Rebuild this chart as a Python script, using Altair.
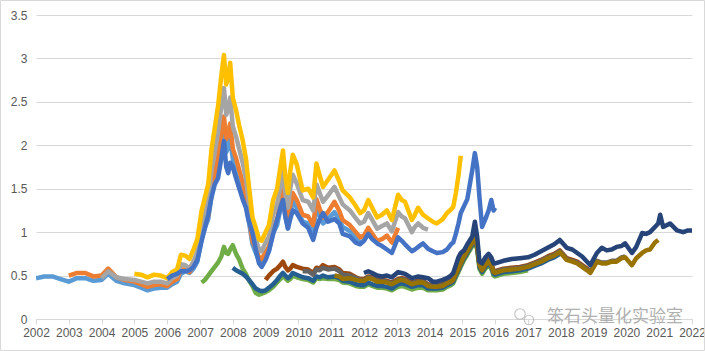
import altair as alt
import pandas as pd

# Sampling dates (fraction of year), one row per calendar year, 2002..2022
dates_by_year = [
    [2002.0, 2002.25, 2002.5, 2002.75],
    [2003.0, 2003.25, 2003.5, 2003.75],
    [2004.0, 2004.2, 2004.45, 2004.7],
    [2005.0, 2005.2, 2005.4, 2005.6, 2005.8],
    [2006.0, 2006.15, 2006.3, 2006.42, 2006.55, 2006.68, 2006.8, 2006.92],
    [2007.05, 2007.15, 2007.25, 2007.35, 2007.45, 2007.55, 2007.65, 2007.73, 2007.8, 2007.86, 2007.92],
    [2008.0, 2008.1, 2008.2, 2008.3, 2008.4, 2008.47, 2008.6, 2008.7, 2008.8, 2008.88],
    [2009.0, 2009.1, 2009.23, 2009.35, 2009.45, 2009.53, 2009.6, 2009.68, 2009.75, 2009.83, 2009.95],
    [2010.13, 2010.3, 2010.45, 2010.55, 2010.65, 2010.75, 2010.9],
    [2011.1, 2011.25, 2011.35, 2011.57, 2011.75, 2011.88],
    [2012.0, 2012.13, 2012.25, 2012.4, 2012.55, 2012.7, 2012.85],
    [2013.04, 2013.15, 2013.25, 2013.46, 2013.55, 2013.65, 2013.8, 2013.95],
    [2014.1, 2014.22, 2014.4, 2014.53, 2014.65, 2014.72, 2014.8, 2014.88, 2014.95],
    [2015.05, 2015.15, 2015.3, 2015.38, 2015.45, 2015.52, 2015.6, 2015.7, 2015.8, 2015.88, 2015.95],
    [2016.0, 2016.25, 2016.5, 2016.75],
    [2017.0, 2017.2, 2017.4, 2017.6, 2017.8, 2017.97],
    [2018.18, 2018.35, 2018.5, 2018.65, 2018.8, 2018.9],
    [2019.1, 2019.25, 2019.4, 2019.55, 2019.7, 2019.85, 2019.96],
    [2020.17, 2020.3, 2020.48, 2020.6, 2020.72, 2020.87, 2020.97],
    [2021.03, 2021.12, 2021.33, 2021.54, 2021.73, 2021.88],
    [2022.0],
]

s2002 = [
    [0.47, 0.49, 0.49, 0.46],
    [0.43, 0.47, 0.47, 0.44],
    [0.45, 0.52, 0.44, 0.41],
    [0.39, 0.36, 0.33, 0.35, 0.36],
    [0.36, 0.40, 0.43, 0.52, 0.55, 0.53, 0.58, 0.66],
    [0.92, 1.05, 1.15, 1.42, 1.60, 1.78, 2.02, 2.19, 1.92, 1.98, 2.08],
    [1.84, 1.73, 1.60, 1.48, 1.33, 1.17, 0.86, 0.76, 0.67, 0.65],
    [0.72, 0.78, 0.99, 1.08, 1.26, 1.40, 1.19, 1.05, 1.22, 1.36, 1.28],
    [1.12, 1.10, 1.02, 1.28, 1.19, 1.10, 1.15],
    [1.23, 1.14, 1.06, 1.01, 0.94, 0.88],
    [0.90],
]

s2003 = [
    [0.50, 0.53, 0.53, 0.49],
    [0.50, 0.58, 0.48, 0.45],
    [0.43, 0.40, 0.37, 0.39, 0.40],
    [0.38, 0.43, 0.46, 0.57, 0.57, 0.54, 0.62, 0.71],
    [0.96, 1.08, 1.19, 1.50, 1.69, 1.89, 2.15, 2.33, 2.07, 2.14, 2.25],
    [1.96, 1.85, 1.71, 1.58, 1.42, 1.23, 0.90, 0.81, 0.71, 0.69],
    [0.77, 0.83, 1.05, 1.15, 1.35, 1.49, 1.27, 1.12, 1.31, 1.45, 1.37],
    [1.20, 1.18, 1.08, 1.38, 1.27, 1.17, 1.23],
    [1.35, 1.24, 1.14, 1.08, 1.00, 0.94],
    [0.96, 1.05, 0.98, 0.90, 0.92, 0.96, 0.88],
    [1.05],
]

s2004 = [
    [0.47, 0.55, 0.48, 0.46],
    [0.45, 0.43, 0.41, 0.43, 0.43],
    [0.41, 0.47, 0.50, 0.63, 0.62, 0.58, 0.66, 0.78],
    [1.08, 1.22, 1.35, 1.70, 1.92, 2.15, 2.45, 2.66, 2.35, 2.42, 2.55],
    [2.22, 2.10, 1.95, 1.80, 1.62, 1.40, 1.03, 0.92, 0.80, 0.78],
    [0.88, 0.95, 1.20, 1.32, 1.54, 1.70, 1.45, 1.28, 1.50, 1.66, 1.56],
    [1.37, 1.35, 1.25, 1.55, 1.45, 1.35, 1.42],
    [1.52, 1.40, 1.32, 1.25, 1.16, 1.10],
    [1.12, 1.22, 1.14, 1.04, 1.07, 1.10, 1.01],
    [1.23, 1.18, 1.16, 1.00, 1.06, 1.10, 1.05, 1.03],
]

s2005 = [
    [0.52, 0.51, 0.48, 0.51, 0.50],
    [0.47, 0.54, 0.57, 0.74, 0.73, 0.69, 0.80, 0.92],
    [1.25, 1.40, 1.55, 1.95, 2.20, 2.45, 2.80, 3.04, 2.70, 2.78, 2.95],
    [2.55, 2.40, 2.22, 2.06, 1.85, 1.60, 1.17, 1.05, 0.92, 0.90],
    [1.00, 1.08, 1.37, 1.50, 1.75, 1.94, 1.65, 1.45, 1.70, 1.89, 1.78],
    [1.48, 1.50, 1.40, 1.79, 1.65, 1.52, 1.60],
    [1.71, 1.58, 1.48, 1.40, 1.30, 1.22],
    [1.25, 1.37, 1.28, 1.17, 1.20, 1.25, 1.14],
    [1.43, 1.37, 1.35, 1.14, 1.20, 1.28, 1.20, 1.16],
    [1.12, 1.10, 1.15, 1.22, 1.26, 1.29, 1.45, 1.65, 1.88],
]

s2006 = [
    [0.46, 0.50, 0.52, 0.55, 0.55, 0.56, 0.60, 0.68],
    [0.90, 1.05, 1.20, 1.40, 1.55, 1.62, 1.85, 2.05, 1.75, 1.68, 1.80],
    [1.75, 1.62, 1.50, 1.38, 1.28, 1.15, 0.99, 0.80, 0.64, 0.60],
    [0.68, 0.78, 0.98, 1.14, 1.28, 1.37, 1.18, 1.04, 1.15, 1.25, 1.22],
    [1.10, 1.05, 0.91, 1.05, 1.15, 1.22, 1.12],
    [1.15, 1.10, 0.98, 0.95, 0.88, 0.86],
    [0.90, 0.98, 0.92, 0.87, 0.84, 0.80, 0.76],
    [0.94, 0.90, 0.86, 0.78, 0.80, 0.83, 0.87, 0.81],
    [0.78, 0.76, 0.77, 0.80, 0.86, 0.88, 0.98, 1.10, 1.22],
    [1.30, 1.38, 1.71, 1.91, 1.75, 1.40, 1.06, 1.15, 1.25, 1.37, 1.25],
    [1.28],
]

s2007 = [
    [0.42, 0.45, 0.50, 0.55, 0.60, 0.65, 0.72, 0.83, 0.76, 0.75, 0.80],
    [0.85, 0.75, 0.68, 0.58, 0.52, 0.46, 0.38, 0.30, 0.28, 0.29],
    [0.31, 0.33, 0.37, 0.42, 0.46, 0.50, 0.47, 0.44, 0.46, 0.50, 0.48],
    [0.46, 0.45, 0.42, 0.47, 0.46, 0.47, 0.46],
    [0.46, 0.45, 0.42, 0.41, 0.38, 0.37],
    [0.37, 0.40, 0.38, 0.36, 0.36, 0.35, 0.33],
    [0.37, 0.38, 0.37, 0.34, 0.35, 0.36, 0.36, 0.33],
    [0.33, 0.33, 0.34, 0.37, 0.39, 0.41, 0.48, 0.54, 0.60],
    [0.68, 0.74, 0.84, 0.88, 0.80, 0.58, 0.52, 0.58, 0.62, 0.58, 0.50],
    [0.49, 0.52, 0.53, 0.54],
    [0.56],
]

s2008 = [
    [0.59, 0.56, 0.54, 0.52, 0.49, 0.46, 0.40, 0.35, 0.33, 0.32],
    [0.33, 0.36, 0.40, 0.45, 0.50, 0.53, 0.50, 0.47, 0.49, 0.53, 0.51],
    [0.48, 0.47, 0.44, 0.49, 0.48, 0.50, 0.48],
    [0.49, 0.47, 0.44, 0.43, 0.40, 0.39],
    [0.39, 0.42, 0.40, 0.38, 0.38, 0.37, 0.35],
    [0.40, 0.41, 0.40, 0.37, 0.38, 0.39, 0.39, 0.35],
    [0.35, 0.35, 0.36, 0.39, 0.41, 0.43, 0.50, 0.56, 0.62],
    [0.70, 0.76, 0.86, 0.90, 0.82, 0.60, 0.54, 0.60, 0.64, 0.60, 0.52],
    [0.51, 0.54, 0.55, 0.56],
    [0.58, 0.61, 0.64, 0.68, 0.71, 0.75],
]

s2009 = [
    [0.45, 0.50, 0.55, 0.58, 0.62, 0.66, 0.60, 0.56, 0.58, 0.62, 0.60],
    [0.58, 0.57, 0.53, 0.59, 0.58, 0.62, 0.59],
    [0.60, 0.57, 0.53, 0.52, 0.48, 0.46],
    [0.46, 0.49, 0.48, 0.45, 0.45, 0.44, 0.42],
    [0.46, 0.47, 0.46, 0.42, 0.43, 0.44, 0.44, 0.40],
    [0.39, 0.39, 0.40, 0.43, 0.45, 0.47, 0.54, 0.60, 0.66],
    [0.74, 0.80, 0.90, 0.94, 0.86, 0.64, 0.58, 0.64, 0.68, 0.64, 0.56],
    [0.55, 0.58, 0.59, 0.60],
    [0.62, 0.65, 0.68, 0.72, 0.75, 0.79],
    [0.70, 0.68, 0.66, 0.62, 0.58, 0.55],
]

s2010 = [
    [0.55, 0.55, 0.51, 0.57, 0.56, 0.59, 0.57],
    [0.58, 0.55, 0.51, 0.50, 0.47, 0.45],
    [0.45, 0.48, 0.47, 0.44, 0.44, 0.43, 0.41],
    [0.45, 0.46, 0.45, 0.41, 0.42, 0.43, 0.43, 0.39],
    [0.38, 0.38, 0.39, 0.42, 0.44, 0.46, 0.53, 0.59, 0.65],
    [0.73, 0.79, 0.89, 0.93, 0.85, 0.63, 0.57, 0.63, 0.67, 0.63, 0.55],
    [0.54, 0.57, 0.58, 0.59],
    [0.61, 0.64, 0.67, 0.71, 0.74, 0.78],
    [0.69, 0.67, 0.65, 0.61, 0.57, 0.54],
    [0.67, 0.65, 0.65, 0.67, 0.67, 0.71, 0.72],
]

s2011 = [
    [0.50, 0.49, 0.46, 0.47, 0.45, 0.44],
    [0.44, 0.47, 0.46, 0.43, 0.43, 0.42, 0.40],
    [0.44, 0.45, 0.44, 0.40, 0.41, 0.42, 0.42, 0.38],
    [0.37, 0.37, 0.38, 0.41, 0.43, 0.45, 0.52, 0.58, 0.64],
    [0.72, 0.78, 0.88, 0.92, 0.84, 0.62, 0.56, 0.62, 0.66, 0.62, 0.54],
    [0.53, 0.56, 0.57, 0.58],
    [0.60, 0.63, 0.66, 0.70, 0.73, 0.77],
    [0.68, 0.66, 0.64, 0.60, 0.56, 0.53],
    [0.66, 0.64, 0.64, 0.66, 0.66, 0.70, 0.71],
    [0.62, 0.70, 0.76, 0.79, 0.80, 0.88, 0.91],
]

s2012 = [
    [0.53, 0.55, 0.53, 0.50, 0.49, 0.50, 0.48],
    [0.54, 0.53, 0.52, 0.47, 0.48, 0.49, 0.48, 0.47],
    [0.43, 0.43, 0.45, 0.47, 0.50, 0.53, 0.62, 0.71, 0.76],
    [0.79, 0.86, 0.95, 1.12, 0.95, 0.66, 0.64, 0.71, 0.75, 0.71, 0.64],
    [0.64, 0.67, 0.69, 0.70],
    [0.71, 0.74, 0.78, 0.82, 0.86, 0.91],
    [0.82, 0.80, 0.76, 0.72, 0.66, 0.62],
    [0.76, 0.82, 0.79, 0.80, 0.83, 0.84, 0.87],
    [0.76, 0.83, 0.99, 0.98, 1.00, 1.06, 1.10],
    [1.20, 1.06, 1.10, 1.02, 1.00, 1.02],
    [1.02],
]

series_names = ["s2002", "s2003", "s2004", "s2005", "s2006", "s2007",
                "s2008", "s2009", "s2010", "s2011", "s2012"]
series_start = [2002, 2003, 2004, 2005, 2006, 2007, 2008, 2009, 2010, 2011, 2012]
series_rows = [s2002, s2003, s2004, s2005, s2006, s2007, s2008, s2009, s2010, s2011, s2012]
series_colors = ["#5B9BD5", "#ED7D31", "#A5A5A5", "#FFC000", "#4472C4", "#70AD47",
                 "#255E91", "#9E480E", "#636363", "#997300", "#264478"]

y_ticks = [0, 0.5, 1, 1.5, 2, 2.5, 3, 3.5]
x_ticks = list(range(2002, 2023))

x_scale = alt.Scale(domain=[2002, 2022], nice=False, zero=False)
y_scale = alt.Scale(domain=[0, 3.5], nice=False)

x_axis = alt.Axis(values=x_ticks, format="d", grid=False, title=None,
                  domainColor="#D9D9D9", tickColor="#D9D9D9", tickSize=5,
                  labelColor="#595959", labelFont="Liberation Sans", labelFontSize=12,
                  labelPadding=3, labelFlush=False, labelOverlap=False)
y_axis = alt.Axis(values=y_ticks, format="~g", grid=True, gridColor="#D9D9D9",
                  domain=False, ticks=False, title=None,
                  labelColor="#595959", labelFont="Liberation Sans", labelFontSize=12,
                  labelPadding=9)

layers = []
for name, start, rows, color in zip(series_names, series_start, series_rows, series_colors):
    xs, ys = [], []
    for k, row in enumerate(rows):
        drow = dates_by_year[start + k - 2002]
        if len(row) > len(drow):
            raise ValueError(f"{name} year {start + k}: {len(row)} values, {len(drow)} dates")
        xs.extend(drow[:len(row)])
        ys.extend(row)
    df = pd.DataFrame({"t": xs, "v": ys})
    layers.append(
        alt.Chart(df).mark_line(color=color, strokeWidth=4.5, strokeJoin="round",
                                strokeCap="butt", clip=True).encode(
            x=alt.X("t:Q", scale=x_scale, axis=x_axis),
            y=alt.Y("v:Q", scale=y_scale, axis=y_axis),
        )
    )

one = pd.DataFrame({"a": [0]})
watermark = alt.Chart(one).mark_text(
    text="笨石头量化实验室", font="Noto Sans CJK SC", fontSize=17,
    color="#B0B0B0", align="left", baseline="middle"
).encode(x=alt.value(511), y=alt.value(302))

icon1 = alt.Chart(one).mark_point(shape="circle", size=110, filled=False,
                                  color="#B0B0B0", strokeWidth=1.2).encode(
    x=alt.value(484), y=alt.value(299))
icon2 = alt.Chart(one).mark_point(shape="circle", size=90, filled=False,
                                  color="#B0B0B0", strokeWidth=1.2).encode(
    x=alt.value(493), y=alt.value(305))

border = alt.Chart(one).mark_rect(fill=None, stroke="#D9D9D9", strokeWidth=1,
                                  clip=False).encode(
    x=alt.value(-35.5), x2=alt.value(668.5), y=alt.value(-14.5), y2=alt.value(335.5))

chart = alt.layer(*layers, watermark, icon1, icon2, border).properties(
    width=656, height=304,
    autosize=alt.AutoSizeParams(type="none"),
    padding={"left": 36, "top": 15, "right": 13, "bottom": 32},
    background="white",
).configure_view(stroke=None)

chart.save("out.html", embed_options={"renderer": "svg", "actions": False})
